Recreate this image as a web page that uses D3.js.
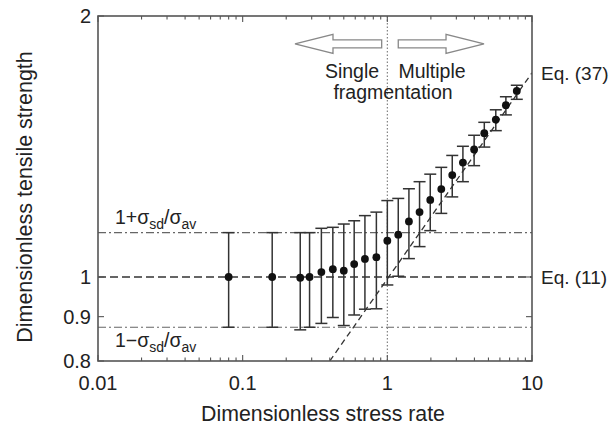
<!DOCTYPE html>
<html>
<head>
<meta charset="utf-8">
<script src="https://cdn.jsdelivr.net/npm/d3@7"></script>
<style>
  html, body { margin: 0; padding: 0; background: #fff; }
  svg { display: block; font-family: "Liberation Sans", Arial, Helvetica, sans-serif; }
</style>
</head>
<body>
<svg id="chart" width="610" height="432"></svg>
<script>
// ---- data ----
const stressRate = [0.08, 0.16, 0.25, 0.29, 0.35, 0.42, 0.50, 0.59, 0.70, 0.84, 1.00, 1.19,
                    1.41, 1.67, 1.98, 2.36, 2.81, 3.33, 3.98, 4.68, 5.62, 6.60, 7.85];
const strengthMean = [1.000, 1.000, 0.998, 1.000, 1.013, 1.021, 1.017, 1.035, 1.049, 1.054, 1.101, 1.119,
                      1.159, 1.188, 1.227, 1.263, 1.311, 1.355, 1.403, 1.465, 1.519, 1.578, 1.639];
const strengthUpper = [1.125, 1.125, 1.125, 1.125, 1.138, 1.141, 1.151, 1.161, 1.177, 1.188, 1.225, 1.232,
                       1.264, 1.288, 1.314, 1.338, 1.381, 1.415, 1.457, 1.508, 1.559, 1.614, 1.664];
const strengthLower = [0.875, 0.875, 0.869, 0.875, 0.884, 0.898, 0.879, 0.904, 0.918, 0.919, 0.979, 1.002,
                       1.050, 1.084, 1.131, 1.184, 1.237, 1.288, 1.344, 1.412, 1.475, 1.538, 1.603];
const eq37X = [0.4, 10];
const eq37Y = [0.8, 1.72];
const eq11Y = 1;
const sdBandY = [1.125, 0.875];
const xTickValues = [0.01, 0.1, 1, 10];
const xTickLabels = ["0.01", "0.1", "1", "10"];
const yTickValues = [0.8, 0.9, 1, 2];
const yTickLabels = ["0.8", "0.9", "1", "2"];
const xDomain = [0.01, 10];
const yDomain = [0.8, 2];

// ---- layout ----
const svg = d3.select("#chart");
const L = 98, R = 532, T = 16, B = 361;
const x = d3.scaleLog().domain(xDomain).range([L, R]);
const y = d3.scaleLog().domain(yDomain).range([B, T]);
const ink = "#222";
const axisGray = "#555";

svg.append("defs").append("clipPath").attr("id", "clip")
  .append("rect").attr("x", L).attr("y", T).attr("width", R - L).attr("height", B - T);

const plot = svg.append("g").attr("clip-path", "url(#clip)");

// reference lines
plot.selectAll("line.sd").data(sdBandY).join("line")
  .attr("x1", L).attr("x2", R).attr("y1", d => y(d)).attr("y2", d => y(d))
  .attr("stroke", "#666").attr("stroke-width", 1.1).attr("stroke-dasharray", "8,3,2,3");

plot.append("line")
  .attr("x1", L).attr("x2", R).attr("y1", y(eq11Y)).attr("y2", y(eq11Y))
  .attr("stroke", "#333").attr("stroke-width", 1.4).attr("stroke-dasharray", "8,4");

plot.append("line")
  .attr("x1", x(1)).attr("x2", x(1)).attr("y1", T).attr("y2", B)
  .attr("stroke", "#777").attr("stroke-width", 1.1).attr("stroke-dasharray", "1.5,2");

plot.append("path")
  .datum(eq37X.map((v, i) => [v, eq37Y[i]]))
  .attr("d", d3.line().x(d => x(d[0])).y(d => y(d[1])))
  .attr("fill", "none").attr("stroke", "#333").attr("stroke-width", 1.3).attr("stroke-dasharray", "6,4");

// error bars
const pts = stressRate.map((v, i) => ({ x: v, m: strengthMean[i], hi: strengthUpper[i], lo: strengthLower[i] }));
const capW = 6;
const eb = plot.selectAll("g.eb").data(pts).join("g").attr("stroke", "#333").attr("stroke-width", 1.5);
eb.append("line").attr("x1", d => x(d.x)).attr("x2", d => x(d.x)).attr("y1", d => y(d.hi)).attr("y2", d => y(d.lo));
eb.append("line").attr("x1", d => x(d.x) - capW).attr("x2", d => x(d.x) + capW).attr("y1", d => y(d.hi)).attr("y2", d => y(d.hi));
eb.append("line").attr("x1", d => x(d.x) - capW).attr("x2", d => x(d.x) + capW).attr("y1", d => y(d.lo)).attr("y2", d => y(d.lo));
plot.selectAll("circle.pt").data(pts).join("circle")
  .attr("cx", d => x(d.x)).attr("cy", d => y(d.m)).attr("r", 3.9).attr("fill", "#111");

// axes box + ticks (inward, mirrored)
const minorX = [];
[0.01, 0.1, 1].forEach(dec => { for (let k = 2; k <= 9; k++) minorX.push(dec * k); });
const tickG = svg.append("g").attr("stroke", axisGray).attr("stroke-width", 1.1);
[B, T].forEach(edge => {
  const dir = edge === B ? -1 : 1;
  tickG.selectAll(null).data(xTickValues).join("line")
    .attr("x1", d => x(d)).attr("x2", d => x(d)).attr("y1", edge).attr("y2", edge + dir * 6);
  tickG.selectAll(null).data(minorX).join("line")
    .attr("x1", d => x(d)).attr("x2", d => x(d)).attr("y1", edge).attr("y2", edge + dir * 3.5);
});
[L, R].forEach(edge => {
  const dir = edge === L ? 1 : -1;
  tickG.selectAll(null).data(yTickValues).join("line")
    .attr("x1", edge).attr("x2", edge + dir * 6).attr("y1", d => y(d)).attr("y2", d => y(d));
});
svg.append("rect").attr("x", L).attr("y", T).attr("width", R - L).attr("height", B - T)
  .attr("fill", "none").attr("stroke", axisGray).attr("stroke-width", 1.6);

// tick labels
svg.selectAll("text.xt").data(xTickValues).join("text")
  .attr("x", d => x(d)).attr("y", 390).attr("text-anchor", "middle")
  .attr("font-size", 20).attr("fill", ink).text((d, i) => xTickLabels[i]);
svg.selectAll("text.yt").data(yTickValues).join("text")
  .attr("x", 91).attr("y", d => y(d) + 7).attr("text-anchor", "end")
  .attr("font-size", 20).attr("fill", ink).text((d, i) => yTickLabels[i]);

// axis titles
svg.append("text").attr("x", 323).attr("y", 421).attr("text-anchor", "middle")
  .attr("font-size", 21.3).attr("fill", ink).text("Dimensionless stress rate");
svg.append("text").attr("transform", "translate(32,197) rotate(-90)").attr("text-anchor", "middle")
  .attr("font-size", 21.5).attr("fill", ink).text("Dimensionless tensile strength");

// annotations
const ann = svg.append("g").attr("font-size", 19.5).attr("fill", ink);
ann.append("text").attr("x", 541).attr("y", y(eq37Y[1]) + 7).attr("font-size", 19).text("Eq. (37)");
ann.append("text").attr("x", 541).attr("y", y(eq11Y) + 7).attr("font-size", 19).text("Eq. (11)");
ann.append("text").attr("x", 352).attr("y", 78).attr("text-anchor", "middle").text("Single");
ann.append("text").attr("x", 432).attr("y", 78).attr("text-anchor", "middle").text("Multiple");
ann.append("text").attr("x", 393).attr("y", 99).attr("text-anchor", "middle").text("fragmentation");

function sdLabel(sign, baseY) {
  const t = ann.append("text").attr("x", 115).attr("y", baseY);
  t.append("tspan").text("1" + sign + "σ");
  t.append("tspan").attr("font-size", 14).attr("dy", 5).text("sd");
  t.append("tspan").attr("dy", -5).text("/σ");
  t.append("tspan").attr("font-size", 14).attr("dy", 5).text("av");
}
sdLabel("+", 224);
sdLabel("\u2212", 347);

// arrows (anchored in data space)
const arrowY = y(1.857), headL = 38, headH = 9.5, shaftH = 4;
function arrow(xFrom, xTip) {
  const a = x(xFrom), b = x(xTip), s = b > a ? 1 : -1, hb = b - s * headL;
  const p = [[a, arrowY - shaftH], [hb, arrowY - shaftH], [hb, arrowY - headH], [b, arrowY],
             [hb, arrowY + headH], [hb, arrowY + shaftH], [a, arrowY + shaftH]];
  svg.append("path").attr("d", d3.line()(p) + "Z")
    .attr("fill", "#fff").attr("stroke", "#888").attr("stroke-width", 1.3);
}
arrow(0.914, 0.23);
arrow(1.19, 4.66);
</script>
</body>
</html>
